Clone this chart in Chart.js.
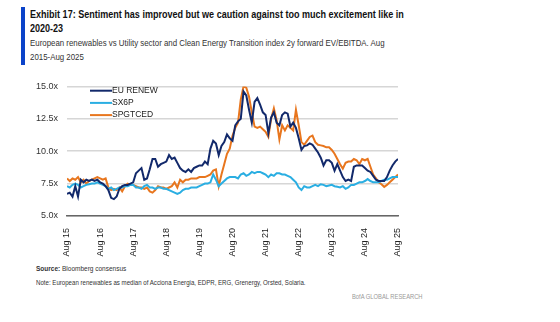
<!DOCTYPE html>
<html>
<head>
<meta charset="utf-8">
<script src="https://cdn.jsdelivr.net/npm/chart.js@4.4.1/dist/chart.umd.min.js"></script>
<style>
  body { margin: 0; background: #fff; width: 560px; height: 322px; position: relative; overflow: hidden; font-family: "Liberation Sans", Arial, sans-serif; }
  #bar { position: absolute; left: 21px; top: 7px; width: 4px; height: 58px; background: #0b43c9; }
  .sq { transform-origin: 0 0; white-space: nowrap; }
  #title { position: absolute; left: 30px; top: 7px; font-size: 10.5px; font-weight: bold; color: #111; line-height: 14px; transform: scaleX(0.86); }
  #sub { position: absolute; left: 30px; top: 36px; font-size: 9px; color: #333; line-height: 14px; transform: scaleX(0.875); }
  #src { position: absolute; left: 36px; top: 265px; font-size: 6.5px; color: #333; }
  #note { position: absolute; left: 36px; top: 279px; font-size: 6.5px; color: #333; transform: scaleX(0.94); }
  #brand { position: absolute; left: 352px; top: 293px; font-size: 6.5px; color: #999; transform: scaleX(0.89); }
  #wrap { position: absolute; left: 0; top: 72px; width: 420px; height: 186px; }
</style>
</head>
<body>
<div id="bar"></div>
<div id="title" class="sq">Exhibit 17: Sentiment has improved but we caution against too much excitement like in<br>2020-23</div>
<div id="sub" class="sq">European renewables vs Utility sector and Clean Energy Transition index 2y forward EV/EBITDA. Aug<br>2015-Aug 2025</div>
<div id="wrap"><canvas id="chart" width="420" height="186"></canvas></div>
<div id="src" class="sq"><b>Source:</b> Bloomberg consensus</div>
<div id="note" class="sq">Note: European renewables as median of Acciona Energia, EDPR, ERG, Grenergy, Orsted, Solaria.</div>
<div id="brand" class="sq">BofA GLOBAL RESEARCH</div>
<script>
// tick labels, one per August
const tickLabels = ["Aug 15", "Aug 16", "Aug 17", "Aug 18", "Aug 19", "Aug 20", "Aug 21", "Aug 22", "Aug 23", "Aug 24", "Aug 25"];

// monthly values, Aug 2015 .. Aug 2025
const euRenew = [
  6.7, 6.8, 6.5, 7.3, 6.5, 7.8, 7.6, 7.8, 7.7, 7.8, 7.7, 7.8,
  7.6, 7.5, 7.3, 7.0, 6.4, 6.3, 6.5, 7.1, 7.3, 7.4, 7.4, 7.5,
  7.6, 8.3, 8.5, 8.7, 7.8, 7.9, 8.6, 9.4, 9.4, 8.8, 9.0, 9.1,
  9.2, 9.7, 9.4, 9.5, 9.1, 8.7, 8.5, 8.4, 8.6, 8.4, 8.7, 8.8,
  8.9, 8.9, 9.2, 9.0, 10.2, 10.8, 10.6, 9.7, 10.4, 10.7, 11.3, 11.0,
  10.8, 12.0, 12.3, 12.5, 14.6, 14.3, 13.2, 12.2, 13.8, 14.1, 13.6, 13.0,
  12.8, 11.4, 12.6, 13.0, 12.2, 12.0, 12.8, 13.0, 12.9, 11.9, 12.2, 11.8,
  11.0, 10.1, 10.4, 10.45, 10.6, 10.5, 10.2, 9.9, 9.5, 8.9, 9.3, 9.3,
  9.1, 8.5, 9.0, 8.5, 8.0, 7.7, 7.8, 7.7, 8.8, 8.9, 8.9, 8.9,
  8.7, 8.5, 8.4, 8.1, 7.8, 7.7, 7.7, 7.7, 8.0, 8.5, 8.9, 9.2,
  9.4
];
const sx6p = [
  7.3, 7.2, 7.4, 7.5, 7.4, 7.2, 7.3, 7.4, 7.45, 7.5, 7.5, 7.6,
  7.5, 7.4, 7.3, 7.1, 7.2, 7.0, 7.1, 7.2, 7.2, 7.3, 7.3, 7.4,
  7.4, 7.2, 7.2, 7.1, 7.3, 7.4, 7.2, 7.2, 7.1, 7.2, 7.2, 7.1,
  7.1, 7.0, 6.9, 6.8, 6.7, 6.8, 7.0, 7.1, 7.1, 7.2, 7.2, 7.2,
  7.3, 7.4, 7.5, 7.5, 7.6, 8.2, 7.8, 7.3, 7.5, 7.7, 7.9, 8.0,
  8.0, 8.0, 7.9, 8.2, 8.3, 8.1, 8.2, 8.4, 8.3, 8.4, 8.4, 8.3,
  8.2, 8.0, 8.2, 8.1, 8.3, 8.3, 8.2, 8.2, 8.1, 8.0, 7.8, 7.6,
  7.2, 7.0, 7.3, 7.2, 7.2, 7.3, 7.4, 7.3, 7.45, 7.4, 7.3, 7.35,
  7.4, 7.3, 7.25, 7.2, 7.3, 7.1, 7.2, 7.4, 7.4, 7.5, 7.6, 7.6,
  7.7, 7.85, 7.7, 7.6, 7.6, 7.6, 7.7, 7.8, 7.8, 7.9, 8.0, 8.0,
  8.0
];
const spgtced = [
  7.9, 7.7, 7.9, 7.8, 8.0, 7.6, 7.8, 7.5, 7.7, 7.8, 7.9, 8.0,
  7.9, 7.8, 7.9, 7.2, 7.0, 7.1, 7.0, 7.2, 6.9, 7.3, 7.5, 7.4,
  7.4, 7.3, 7.2, 7.2, 7.1, 7.2, 6.9, 6.8, 7.0, 7.3, 7.2, 7.2,
  7.1, 7.2, 7.3, 7.6, 7.2, 7.8, 7.6, 7.8, 7.8, 7.9, 7.9, 7.9,
  8.0, 8.0, 8.0, 8.1, 8.2, 8.5, 8.6, 7.3, 8.2, 9.0, 9.8, 10.2,
  11.2, 11.8, 12.2, 14.0, 15.0, 14.9, 14.2, 13.0, 11.9, 11.8, 11.9, 11.7,
  11.5, 11.1, 12.5, 13.3, 12.4, 10.9, 12.0, 11.6, 12.0, 11.8, 11.6, 13.2,
  12.0, 10.7, 10.5, 10.8, 11.1, 11.2, 10.7, 10.5, 10.45, 10.4, 10.3, 10.3,
  10.1, 9.8, 9.4, 9.0, 8.65, 9.1, 9.2, 9.2, 9.4, 9.3, 9.0, 9.4,
  9.3, 9.4, 8.8, 8.2, 7.9, 7.6, 7.45, 7.25, 7.4, 7.6, 7.8, 8.0,
  8.2
];

const seriesNames = ["EU RENEW", "SX6P", "SPGTCED"];
const seriesColors = ["#12296b", "#2aaee2", "#e8761e"];

function toPoints(arr) {
  return arr.map((v, i) => ({ x: i, y: v }));
}

// legend drawn inside the plot, top left
const innerLegend = {
  id: "innerLegend",
  afterDraw(chart) {
    const ctx = chart.ctx;
    ctx.save();
    ctx.font = "8.5px 'Liberation Sans', Arial, sans-serif";
    ctx.textBaseline = "middle";
    chart.data.datasets.forEach((ds, i) => {
      const y = 18.7 + i * 12.2;
      ctx.strokeStyle = ds.borderColor;
      ctx.lineWidth = 2;
      ctx.beginPath();
      ctx.moveTo(90, y);
      ctx.lineTo(112, y);
      ctx.stroke();
      ctx.fillStyle = "#222";
      ctx.fillText(ds.label, 112, y);
    });
    ctx.restore();
  }
};

const ctx = document.getElementById("chart").getContext("2d");
const chart = new Chart(ctx, {
  type: "line",
  data: {
    datasets: [
      { label: seriesNames[0], data: toPoints(euRenew), borderColor: seriesColors[0], borderWidth: 2, pointRadius: 0, tension: 0 },
      { label: seriesNames[1], data: toPoints(sx6p), borderColor: seriesColors[1], borderWidth: 2, pointRadius: 0, tension: 0 },
      { label: seriesNames[2], data: toPoints(spgtced), borderColor: seriesColors[2], borderWidth: 2, pointRadius: 0, tension: 0 }
    ]
  },
  options: {
    responsive: false,
    animation: false,
    layout: { padding: { top: 3, right: 22, left: 0, bottom: 0 } },
    plugins: { legend: { display: false }, tooltip: { enabled: false } },
    scales: {
      x: {
        type: "linear",
        min: 0,
        max: 120,
        afterFit: s => { s.height = 42; },
        grid: { display: false },
        border: { display: true, color: "#666", width: 1.5 },
        ticks: {
          stepSize: 12,
          autoSkip: false,
          minRotation: 90,
          maxRotation: 90,
          padding: 4,
          color: "#222",
          font: { family: "'Liberation Sans', Arial", size: 9 },
          callback: v => tickLabels[v / 12]
        }
      },
      y: {
        min: 5,
        max: 15,
        afterFit: s => { s.width = 67; },
        border: { display: false },
        grid: { color: "#d6d6d6", lineWidth: 1.5, drawTicks: false },
        ticks: {
          stepSize: 2.5,
          padding: 9,
          color: "#333",
          font: { family: "'Liberation Sans', Arial", size: 9 },
          callback: v => v.toFixed(1) + "x"
        }
      }
    }
  },
  plugins: [innerLegend]
});
</script>
</body>
</html>
